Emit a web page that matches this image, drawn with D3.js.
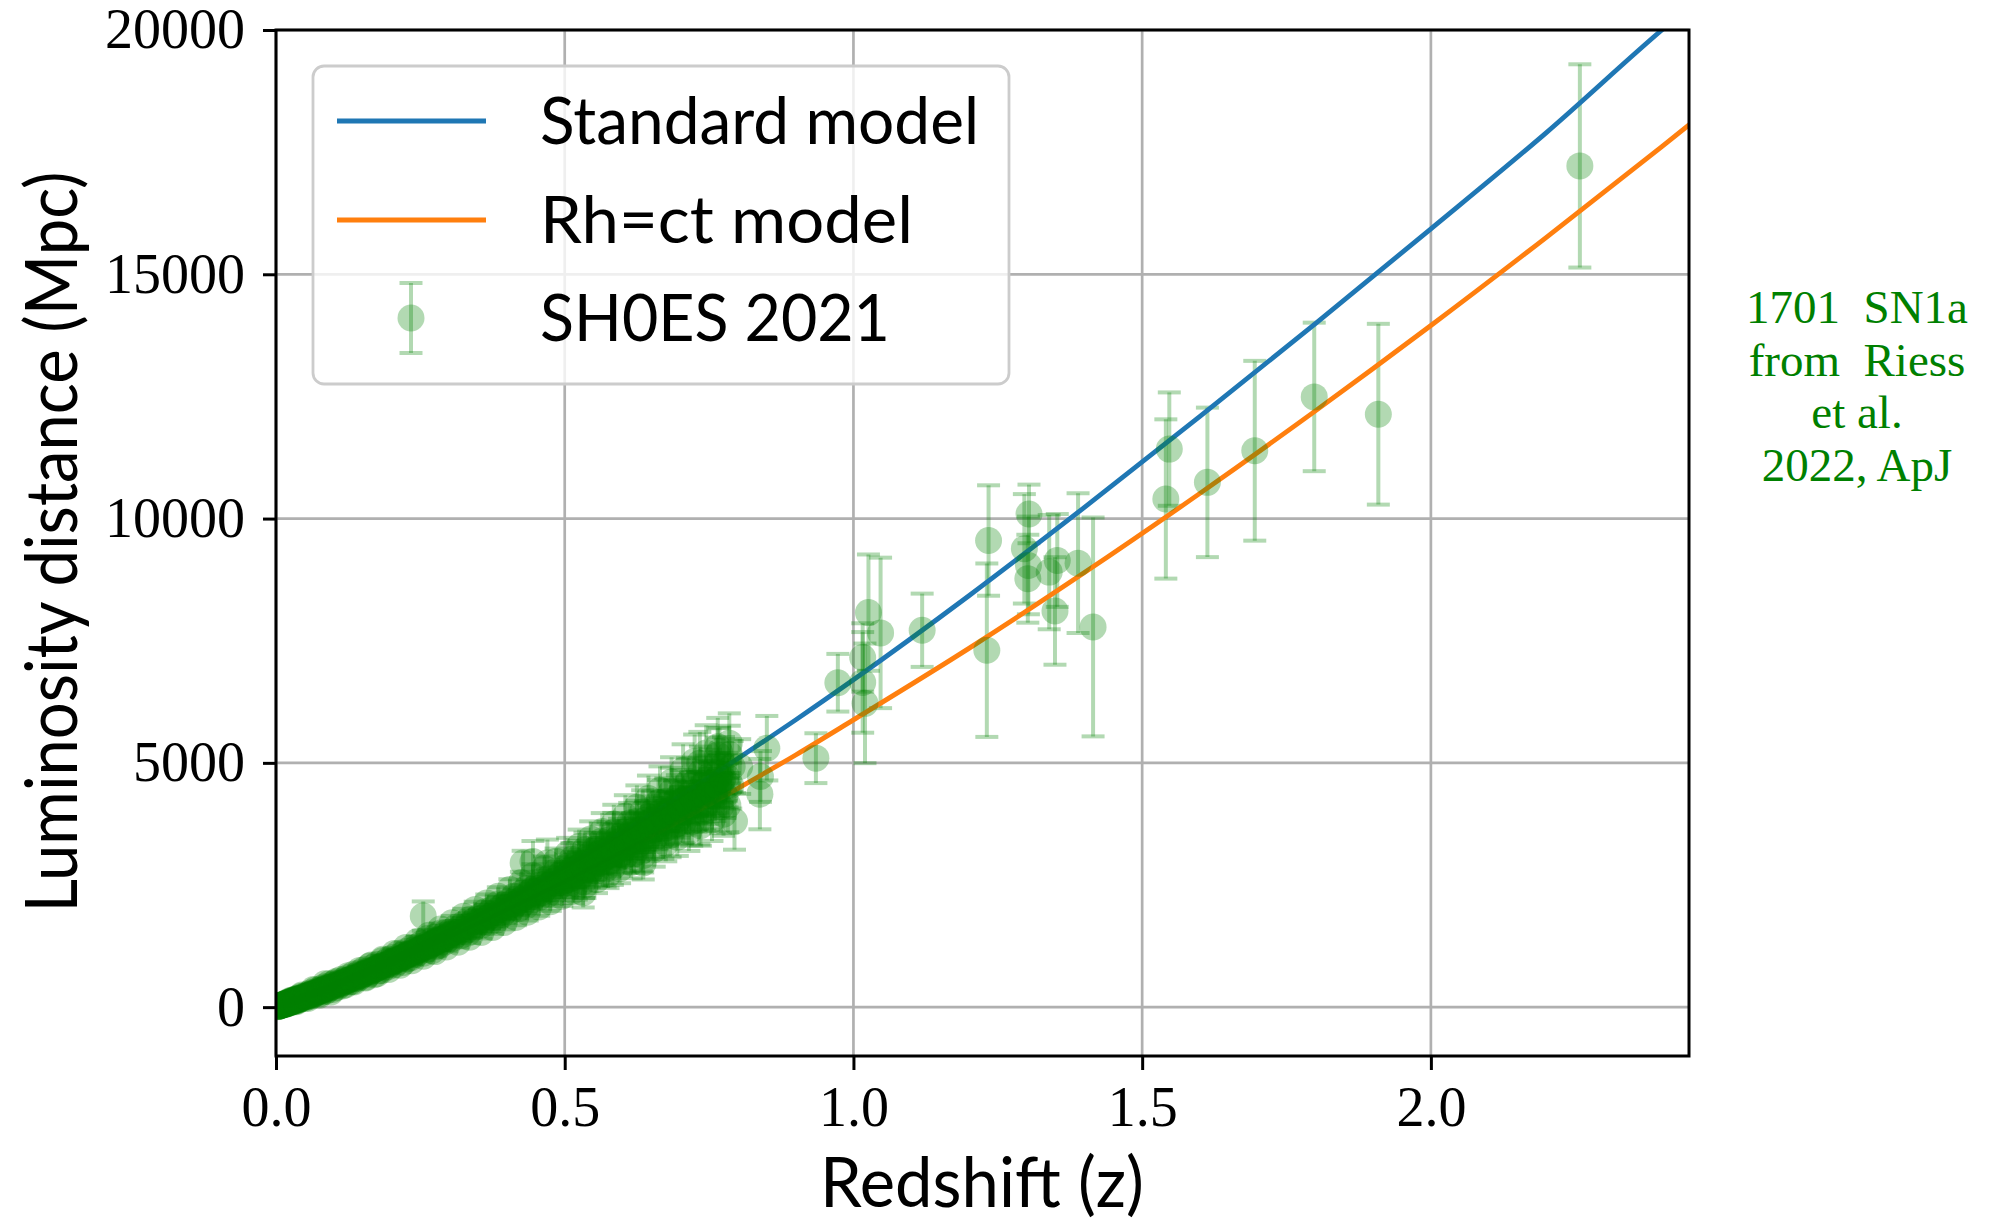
<!DOCTYPE html>
<html>
<head>
<meta charset="utf-8">
<script src="https://cdn.jsdelivr.net/npm/d3@7"></script>
<style>
  body { margin: 0; background: #fff; }
  svg { display: block; }
</style>
</head>
<body>
<script>
// axis ticks
const xTicks = [0, 0.5, 1.0, 1.5, 2.0];
const yTicks = [0, 5000, 10000, 15000, 20000];

// model curves
const modelZ      = [0, 0.1, 0.2, 0.3, 0.4, 0.5, 0.6, 0.7, 0.8, 0.9, 1.0, 1.2, 1.4, 1.6, 1.8, 2.0, 2.2, 2.4, 2.45];
const standardDL  = [0, 465, 990, 1570, 2200, 2870, 3580, 4320, 5090, 5880, 6700, 8420, 10230, 12090, 13990, 15930, 17900, 20000, 20500];
const rhctDL      = [0, 444, 926, 1444, 1994, 2575, 3183, 3818, 4479, 5162, 5880, 7343, 8894, 10516, 12204, 13951, 15756, 17613, 18085];

// SN1a points [z, luminosity distance, error] (the dense band is only sampled)
const snLowZ = [
  [0.002,10,1],[0.003,11,1],[0.004,17,1],[0.005,19,1],[0.006,30,2],[0.007,28,2],[0.008,36,2],[0.009,32,2],[0.010,42,2],[0.011,51,3],
  [0.012,45,2],[0.013,56,3],[0.014,67,3],[0.015,55,3],[0.016,70,4],[0.017,66,3],[0.018,90,5],[0.019,77,4],[0.020,91,5],[0.021,75,4],
  [0.022,92,5],[0.023,108,5],[0.024,91,5],[0.025,108,5],[0.026,126,6],[0.027,100,5],[0.028,124,6],[0.029,114,6],[0.030,152,8],[0.031,127,6],
  [0.032,146,7],[0.033,118,6],[0.034,144,7],[0.035,166,8],[0.036,137,7],[0.037,161,8],[0.038,185,9],[0.039,145,7],[0.040,178,9],[0.042,166,8],
  [0.044,224,11],[0.046,189,9],[0.048,220,11],[0.050,181,9],[0.052,221,11],[0.054,258,13],[0.056,215,11],[0.058,255,13],[0.060,295,15],[0.062,233,12],
  [0.064,288,14],[0.066,263,13],[0.068,350,18],[0.070,292,15],[0.072,334,17],[0.074,271,14],[0.076,327,16],[0.078,377,19],[0.080,311,16],[0.082,365,18],
  [0.084,418,21],[0.086,328,16],[0.088,400,20],[0.090,363,18],[0.092,479,24],[0.094,396,20],[0.096,451,23],[0.098,363,18],
  [0.0045,19,1],[0.0085,35,2],[0.0125,52,3],[0.0165,69,3],[0.0205,86,4],[0.0245,103,5],[0.0285,120,6],[0.0325,137,7],[0.0365,154,8],[0.0405,172,9],
  [0.0445,189,9],[0.0485,206,10],[0.0525,224,11],[0.0565,241,12],[0.0605,259,13],[0.0645,277,14],[0.0685,294,15],[0.0725,312,16],[0.0765,330,17],[0.0805,348,17],
  [0.0845,366,18],[0.0885,384,19],[0.0925,402,20],[0.0965,420,21]
];

const snMidZ = [
  [0.1025,498,30],[0.105,402,24],[0.1075,487,29],[0.11,452,27],[0.1125,566,34],[0.115,494,30],[0.1175,552,33],[0.12,454,27],[0.1225,540,32],[0.125,607,36],
  [0.1275,518,31],[0.13,587,35],[0.1325,528,32],[0.135,677,41],[0.1375,586,35],[0.14,654,39],[0.1425,590,35],[0.145,704,42],[0.1475,638,38],[0.15,677,41],
  [0.1525,764,46],[0.155,612,37],[0.1575,736,44],[0.16,677,41],[0.1625,842,51],[0.165,730,44],[0.1675,811,49],[0.17,662,40],[0.1725,783,47],[0.175,875,53],
  [0.1775,743,45],[0.18,836,50],[0.1825,749,45],[0.185,955,57],[0.1875,823,49],[0.19,914,55],[0.1925,821,49],[0.195,976,59],[0.1975,880,53],[0.2,929,56],
  [0.2025,1017,61],[0.205,861,52],[0.2075,989,59],[0.21,924,55],[0.2125,1105,66],[0.215,980,59],[0.2175,1063,64],[0.22,913,55],[0.2225,1039,62],[0.225,1137,68],
  [0.2275,991,59],[0.23,1101,66],[0.2325,1005,60],[0.235,1216,73],[0.2375,1085,65],[0.24,1177,71],[0.2425,1077,65],[0.245,1240,74],[0.2475,1137,68],[0.25,1197,72],
  [0.2525,1307,78],[0.255,1103,66],[0.2575,1263,76],[0.26,1178,71],[0.2625,1404,84],[0.265,1242,75],[0.2675,1345,81],[0.27,1153,69],[0.2725,1309,79],[0.275,1428,86],
  [0.2775,1243,75],[0.28,1377,83],[0.2825,1255,75],[0.285,1515,91],[0.2875,1350,81],[0.29,1461,88],[0.2925,1334,80],[0.295,1533,92],[0.2975,1403,84],[0.3,1475,89],
  [0.1013,439,26],[0.1063,463,28],[0.1113,486,29],[0.1163,510,31],[0.1213,534,32],[0.1263,557,33],[0.1313,581,35],[0.1363,605,36],[0.1413,628,38],[0.1463,652,39],
  [0.1513,676,41],[0.1563,701,42],[0.1613,726,44],[0.1663,751,45],[0.1713,776,47],[0.1763,801,48],[0.1813,826,50],[0.1863,851,51],[0.1913,876,53],[0.1963,901,54],
  [0.2013,926,56],[0.2063,953,57],[0.2113,980,59],[0.2163,1006,60],[0.2213,1033,62],[0.2263,1059,64],[0.2313,1086,65],[0.2363,1112,67],[0.2413,1139,68],[0.2463,1165,70],
  [0.2513,1192,72],[0.2563,1219,73],[0.2613,1247,75],[0.2663,1274,76],[0.2713,1302,78],[0.2763,1329,80],[0.2813,1357,81],[0.2863,1384,83],[0.2913,1412,85],[0.2963,1439,86],
  [0.255,1864,300],
  [0.3025,1548,108],[0.305,1400,98],[0.3075,1534,107],[0.31,1472,103],[0.3125,1640,115],[0.315,1532,107],[0.3175,1608,113],[0.32,1466,103],[0.3225,1591,111],[0.325,1701,119],
  [0.3275,1555,109],[0.33,1650,116],[0.3325,1517,106],[0.335,1796,126],[0.3375,1644,115],[0.34,1743,122],[0.3425,1621,113],[0.345,1790,125],[0.3475,1683,118],[0.35,1750,123],
  [0.3525,1853,130],[0.355,1673,117],[0.3575,1830,128],[0.36,1755,123],[0.3625,1951,137],[0.365,1820,127],[0.3675,1909,134],[0.37,1737,122],[0.3725,1883,132],[0.375,2011,141],
  [0.3775,1836,129],[0.38,1946,136],[0.3825,1786,125],[0.385,2113,148],[0.3875,1932,135],[0.39,2046,143],[0.3925,1901,133],[0.395,2096,147],[0.3975,1969,138],[0.4,2045,143],
  [0.4025,2163,151],[0.405,1951,137],[0.4075,2133,149],[0.41,2043,143],[0.4125,2270,159],[0.415,2115,148],[0.4175,2216,155],[0.42,2015,141],[0.4225,2182,153],[0.425,2329,163],
  [0.4275,2124,149],[0.43,2250,158],[0.4325,2064,144],[0.435,2439,171],[0.4375,2228,156],[0.44,2358,165],[0.4425,2189,153],[0.445,2412,169],[0.4475,2265,159],[0.45,2350,165],
  [0.4525,2484,174],[0.455,2239,157],[0.4575,2446,171],[0.46,2342,164],[0.4625,2600,182],[0.465,2422,170],[0.4675,2536,178],[0.47,2305,161],[0.4725,2494,175],[0.475,2661,186],
  [0.4775,2425,170],[0.48,2567,180],[0.4825,2353,165],[0.485,2780,195],[0.4875,2538,178],[0.49,2684,188],[0.4925,2491,174],[0.495,2744,192],[0.4975,2574,180],[0.5,2670,187],
  [0.428,2950,250],[0.47,2950,480],[0.445,2980,420]
];

const snUpperZ = [
  [0.5025,2875,290],[0.505,2487,230],[0.5075,2801,260],[0.51,2627,300],[0.5125,3028,330],[0.515,2714,250],[0.5175,2897,280],[0.52,2522,320],[0.5225,2847,240],[0.525,3062,340],
  [0.5275,2680,270],[0.53,2925,300],[0.5325,2567,330],[0.535,3220,350],[0.5375,2830,260],[0.54,3081,310],[0.5425,2744,290],[0.545,3145,330],[0.5475,2834,270],[0.55,3000,300],
  [0.5525,3228,340],[0.555,2790,300],[0.5575,3141,280],[0.56,2943,330],[0.5625,3391,360],[0.565,3037,290],[0.5675,3240,320],[0.57,2819,350],[0.5725,3180,280],[0.575,3418,370],
  [0.5775,2991,300],[0.58,3262,330],[0.5825,2861,360],[0.585,3586,390],[0.5875,3150,290],[0.59,3427,340],[0.5925,3051,320],[0.595,3495,360],[0.5975,3148,300],[0.6,3330,330],
  [0.6025,3584,380],[0.605,3099,330],[0.6075,3490,320],[0.61,3272,370],[0.6125,3770,410],[0.615,3378,330],[0.6175,3605,360],[0.62,3137,390],[0.6225,3541,320],[0.625,3807,420],
  [0.6275,3332,340],[0.63,3635,370],[0.6325,3189,400],[0.635,3999,440],[0.6375,3514,340],[0.64,3824,390],[0.6425,3405,370],[0.645,3902,410],[0.6475,3515,350],[0.65,3720,380],
  [0.6525,4000,430],[0.655,3456,380],[0.6575,3887,360],[0.66,3640,410],[0.6625,4191,460],[0.665,3751,370],[0.6675,4000,400],[0.67,3478,440],[0.6725,3921,360],[0.675,4212,470],
  [0.6775,3683,380],[0.68,4015,410],[0.6825,3519,450],[0.685,4409,490],[0.6875,3870,380],[0.69,4208,430],[0.6925,3744,410],[0.695,4287,460],[0.6975,3859,390],[0.7,4080,420],
  [0.7025,4384,470],[0.705,3785,420],[0.7075,4255,400],[0.71,3982,450],[0.7125,4582,510],[0.715,4098,410],[0.7175,4367,440],[0.72,3794,490],[0.7225,4275,400],[0.725,4590,520],
  [0.7275,4011,420],[0.73,4370,450],[0.7325,3828,500],[0.735,4793,540],[0.7375,4205,420],[0.74,4570,470],[0.7425,4063,450],[0.745,4649,500],[0.7475,4183,430],[0.75,4420,460],
  [0.7525,4748,520],[0.755,4098,460],[0.7575,4605,440],[0.76,4308,500],[0.7625,4956,560],[0.765,4432,450],[0.7675,4721,480],[0.77,4100,540],[0.7725,4619,440],[0.775,4957,570],
  [0.7775,4331,460],[0.78,4716,490],[0.7825,4130,550],[0.785,5170,590],[0.7875,4535,470],[0.79,4927,520],
  [0.5038,2695,270],[0.5113,2799,280],[0.5188,2738,270],[0.5263,2872,290],[0.5338,2864,290],[0.5413,3031,300],[0.5488,2902,290],[0.5563,3041,300],[0.5638,3153,320],[0.5713,3077,310],
  [0.5788,3222,320],[0.5863,3207,320],[0.5938,3387,340],[0.6013,3240,320],[0.6088,3398,340],[0.6163,3526,350],[0.6238,3445,340],[0.6313,3609,360],[0.6388,3596,360],[0.6463,3801,380],
  [0.6538,3635,360],[0.6613,3801,380],[0.6688,3932,390],[0.6763,3831,380],[0.6838,4003,400],[0.6913,3977,400],[0.6988,4193,420],[0.7063,3999,400],[0.7138,4174,420],[0.7213,4309,430],
  [0.7288,4190,420],[0.7363,4370,440],[0.7438,4334,430],[0.7513,4561,460],[0.7588,4345,430],[0.7663,4531,450],[0.7738,4673,470],[0.7813,4540,450],
  [0.532,2340,300],[0.636,2953,340],[0.734,4994,640],[0.765,5163,545],[0.768,5231,490]
];

// scattered points along the upper and lower edge of the band
const snBandEdges = [
  [0.005,27,2],[0.015,47,3],[0.025,137,8],[0.035,111,6],[0.045,248,14],[0.055,176,10],[0.065,362,20],[0.075,242,14],[0.085,478,27],[0.095,310,18],
  [0.105,530,35],[0.115,434,29],[0.125,640,42],[0.135,515,34],[0.145,750,50],[0.155,598,40],[0.165,864,57],[0.175,684,45],[0.185,980,65],[0.195,770,51],
  [0.205,1098,80],[0.215,860,62],[0.225,1221,88],[0.235,951,69],[0.245,1344,97],[0.255,1043,75],[0.265,1470,106],[0.275,1137,82],[0.285,1598,115],[0.295,1232,89],
  [0.305,1727,140],[0.315,1330,108],[0.325,1862,151],[0.335,1430,116],[0.345,1996,162],[0.355,1530,124],[0.365,2133,173],[0.375,1632,132],[0.385,2270,184],[0.395,1733,140],
  [0.405,2408,210],[0.415,1837,160],[0.425,2549,222],[0.435,1942,169],[0.445,2691,234],[0.455,2049,178],[0.465,2837,247],[0.475,2159,188],[0.485,2986,260],[0.495,2269,197],
  [0.505,3135,330],[0.515,2381,250],[0.525,3289,345],[0.535,2495,262],[0.545,3442,361],[0.555,2608,274],[0.565,3595,377],[0.575,2722,286],[0.585,3748,394],[0.595,2835,298],
  [0.605,3908,430],[0.615,2964,326],[0.625,4089,450],[0.635,3099,341],[0.645,4270,470],[0.655,3230,355],[0.665,4440,488],[0.675,3354,369],[0.685,4608,507],[0.695,3478,383],
  [0.705,4850,530],[0.715,3597,400],[0.725,5030,550],[0.735,3713,410],[0.745,5200,570],[0.755,3830,430],[0.765,5330,590],[0.775,3947,440],[0.785,5403,610]
];

const snHighZ = [
  [0.794,3803,580],[0.803,4925,560],[0.839,4721,520],[0.838,4360,720],[0.850,5300,660],[0.935,5096,510],[0.973,6640,590],
  [1.016,7157,700],[1.016,6647,1030],[1.020,6218,1224],[1.026,8075,1190],[1.047,7660,1540],[1.119,7714,750],
  [1.234,9551,1130],[1.231,7306,1775],[1.296,9381,1120],[1.303,9041,1000],[1.302,8769,900],[1.304,10095,600],
  [1.339,8904,1170],[1.353,9143,950],[1.349,8109,1100],[1.389,9088,1430],[1.415,7782,2240],
  [1.547,11422,1160],[1.541,10401,1630],[1.613,10741,1530],[1.695,11388,1840],[1.798,12490,1520],[1.909,12136,1850],
  [2.258,17218,2080]
];

const legendLabels = ['Standard model', 'Rh=ct model', 'SH0ES 2021'];
const noteLines = ['1701  SN1a', 'from  Riess', 'et al.', '2022, ApJ'];

const width = 1993;
const height = 1223;
const plot = { left: 276, right: 1689, top: 30, bottom: 1056 };

const blue = '#1f77b4';
const orange = '#ff7f0e';
const green = '#008000';
const sans = "Lato, 'Open Sans', sans-serif";
const serif = "'Liberation Serif', 'Times New Roman', serif";

const svg = d3.select('body')
  .append('svg')
  .attr('width', width)
  .attr('height', height);

const x = d3.scaleLinear().domain([0, 2.447]).range([plot.left, plot.right]);
const y = d3.scaleLinear().domain([-1000, 20000]).range([plot.bottom, plot.top]);

svg.append('defs').append('clipPath')
  .attr('id', 'plot-clip')
  .append('rect')
  .attr('x', plot.left)
  .attr('y', plot.top)
  .attr('width', plot.right - plot.left)
  .attr('height', plot.bottom - plot.top);

// grid
const grid = svg.append('g').attr('stroke', '#b0b0b0').attr('stroke-width', 2.7);
grid.selectAll('.gx')
  .data(xTicks)
  .join('line')
  .attr('x1', d => x(d)).attr('x2', d => x(d))
  .attr('y1', plot.top).attr('y2', plot.bottom);
grid.selectAll('.gy')
  .data(yTicks)
  .join('line')
  .attr('x1', plot.left).attr('x2', plot.right)
  .attr('y1', d => y(d)).attr('y2', d => y(d));

const allPoints = snLowZ.concat(snMidZ, snUpperZ, snBandEdges, snHighZ);
const dataLayer = svg.append('g').attr('clip-path', 'url(#plot-clip)');

// error bars (drawn under the model lines, like matplotlib)
const capHalf = 11.5;
const bars = dataLayer.append('g')
  .attr('stroke', green)
  .attr('stroke-opacity', 0.3)
  .attr('stroke-width', 4);

allPoints.forEach(d => {
  const cx = x(d[0]);
  const y1 = y(d[1] - d[2]);
  const y2 = y(d[1] + d[2]);
  bars.append('line').attr('x1', cx).attr('x2', cx).attr('y1', y1).attr('y2', y2);
  bars.append('line').attr('x1', cx - capHalf).attr('x2', cx + capHalf).attr('y1', y1).attr('y2', y1);
  bars.append('line').attr('x1', cx - capHalf).attr('x2', cx + capHalf).attr('y1', y2).attr('y2', y2);
});

// model lines
const line = d3.line()
  .x(d => x(d[0]))
  .y(d => y(d[1]))
  .curve(d3.curveMonotoneX);

dataLayer.append('path')
  .datum(modelZ.map((z, i) => [z, standardDL[i]]))
  .attr('fill', 'none')
  .attr('stroke', blue)
  .attr('stroke-width', 4.8)
  .attr('d', line);

dataLayer.append('path')
  .datum(modelZ.map((z, i) => [z, rhctDL[i]]))
  .attr('fill', 'none')
  .attr('stroke', orange)
  .attr('stroke-width', 4.8)
  .attr('d', line);

// markers
dataLayer.append('g')
  .selectAll('circle')
  .data(allPoints)
  .join('circle')
  .attr('cx', d => x(d[0]))
  .attr('cy', d => y(d[1]))
  .attr('r', 13.5)
  .attr('fill', green)
  .attr('fill-opacity', 0.3);

// axes
const xAxis = d3.axisBottom(x)
  .tickValues(xTicks)
  .tickFormat(d3.format('.1f'))
  .tickSize(14)
  .tickPadding(16);

const yAxis = d3.axisLeft(y)
  .tickValues(yTicks)
  .tickFormat(d3.format('d'))
  .tickSize(13)
  .tickPadding(18);

const gx = svg.append('g')
  .attr('transform', `translate(0,${plot.bottom})`)
  .call(xAxis);
const gy = svg.append('g')
  .attr('transform', `translate(${plot.left},0)`)
  .call(yAxis);

[gx, gy].forEach(g => {
  g.select('.domain').remove();
  g.selectAll('.tick line').attr('stroke', '#000').attr('stroke-width', 3);
  g.selectAll('.tick text')
    .attr('fill', '#000')
    .style('font-family', serif)
    .style('font-size', '56px');
});

// spines
svg.append('rect')
  .attr('x', plot.left)
  .attr('y', plot.top)
  .attr('width', plot.right - plot.left)
  .attr('height', plot.bottom - plot.top)
  .attr('fill', 'none')
  .attr('stroke', '#000')
  .attr('stroke-width', 3);

// axis labels
svg.append('text')
  .attr('x', 982)
  .attr('y', 1207)
  .attr('text-anchor', 'middle')
  .attr('textLength', 324)
  .attr('lengthAdjust', 'spacingAndGlyphs')
  .style('font-family', sans)
  .style('font-size', '70px')
  .text('Redshift (z)');

svg.append('text')
  .attr('transform', 'translate(77,542) rotate(-90)')
  .attr('text-anchor', 'middle')
  .attr('textLength', 741)
  .attr('lengthAdjust', 'spacingAndGlyphs')
  .style('font-family', sans)
  .style('font-size', '72px')
  .text('Luminosity distance (Mpc)');

// legend
const legend = svg.append('g');
legend.append('rect')
  .attr('x', 313)
  .attr('y', 66)
  .attr('width', 696)
  .attr('height', 318)
  .attr('rx', 11)
  .attr('fill', '#fff')
  .attr('fill-opacity', 0.8)
  .attr('stroke', '#cccccc')
  .attr('stroke-width', 2.8);

const legendRows = [121, 220, 318];
const legendTextLen = [439, 373, 350];

legend.append('line')
  .attr('x1', 337).attr('x2', 486)
  .attr('y1', legendRows[0]).attr('y2', legendRows[0])
  .attr('stroke', blue).attr('stroke-width', 5);
legend.append('line')
  .attr('x1', 337).attr('x2', 486)
  .attr('y1', legendRows[1]).attr('y2', legendRows[1])
  .attr('stroke', orange).attr('stroke-width', 5);

const eb = legend.append('g')
  .attr('stroke', green)
  .attr('stroke-opacity', 0.3)
  .attr('stroke-width', 4);
eb.append('line').attr('x1', 411).attr('x2', 411).attr('y1', 283).attr('y2', 353);
eb.append('line').attr('x1', 411 - capHalf).attr('x2', 411 + capHalf).attr('y1', 283).attr('y2', 283);
eb.append('line').attr('x1', 411 - capHalf).attr('x2', 411 + capHalf).attr('y1', 353).attr('y2', 353);
legend.append('circle')
  .attr('cx', 411).attr('cy', legendRows[2]).attr('r', 13.5)
  .attr('fill', green).attr('fill-opacity', 0.3);

legend.selectAll('.legend-label')
  .data(legendLabels)
  .join('text')
  .attr('class', 'legend-label')
  .attr('x', 540)
  .attr('y', (d, i) => legendRows[i] + 23)
  .attr('textLength', (d, i) => legendTextLen[i])
  .attr('lengthAdjust', 'spacingAndGlyphs')
  .style('font-family', sans)
  .style('font-size', '66px')
  .text(d => d);

// side note
svg.append('g')
  .selectAll('text')
  .data(noteLines)
  .join('text')
  .attr('x', 1857)
  .attr('y', (d, i) => 323 + i * 52.7)
  .attr('text-anchor', 'middle')
  .attr('fill', green)
  .style('font-family', serif)
  .style('font-size', '47px')
  .style('white-space', 'pre')
  .text(d => d);
</script>
</body>
</html>
